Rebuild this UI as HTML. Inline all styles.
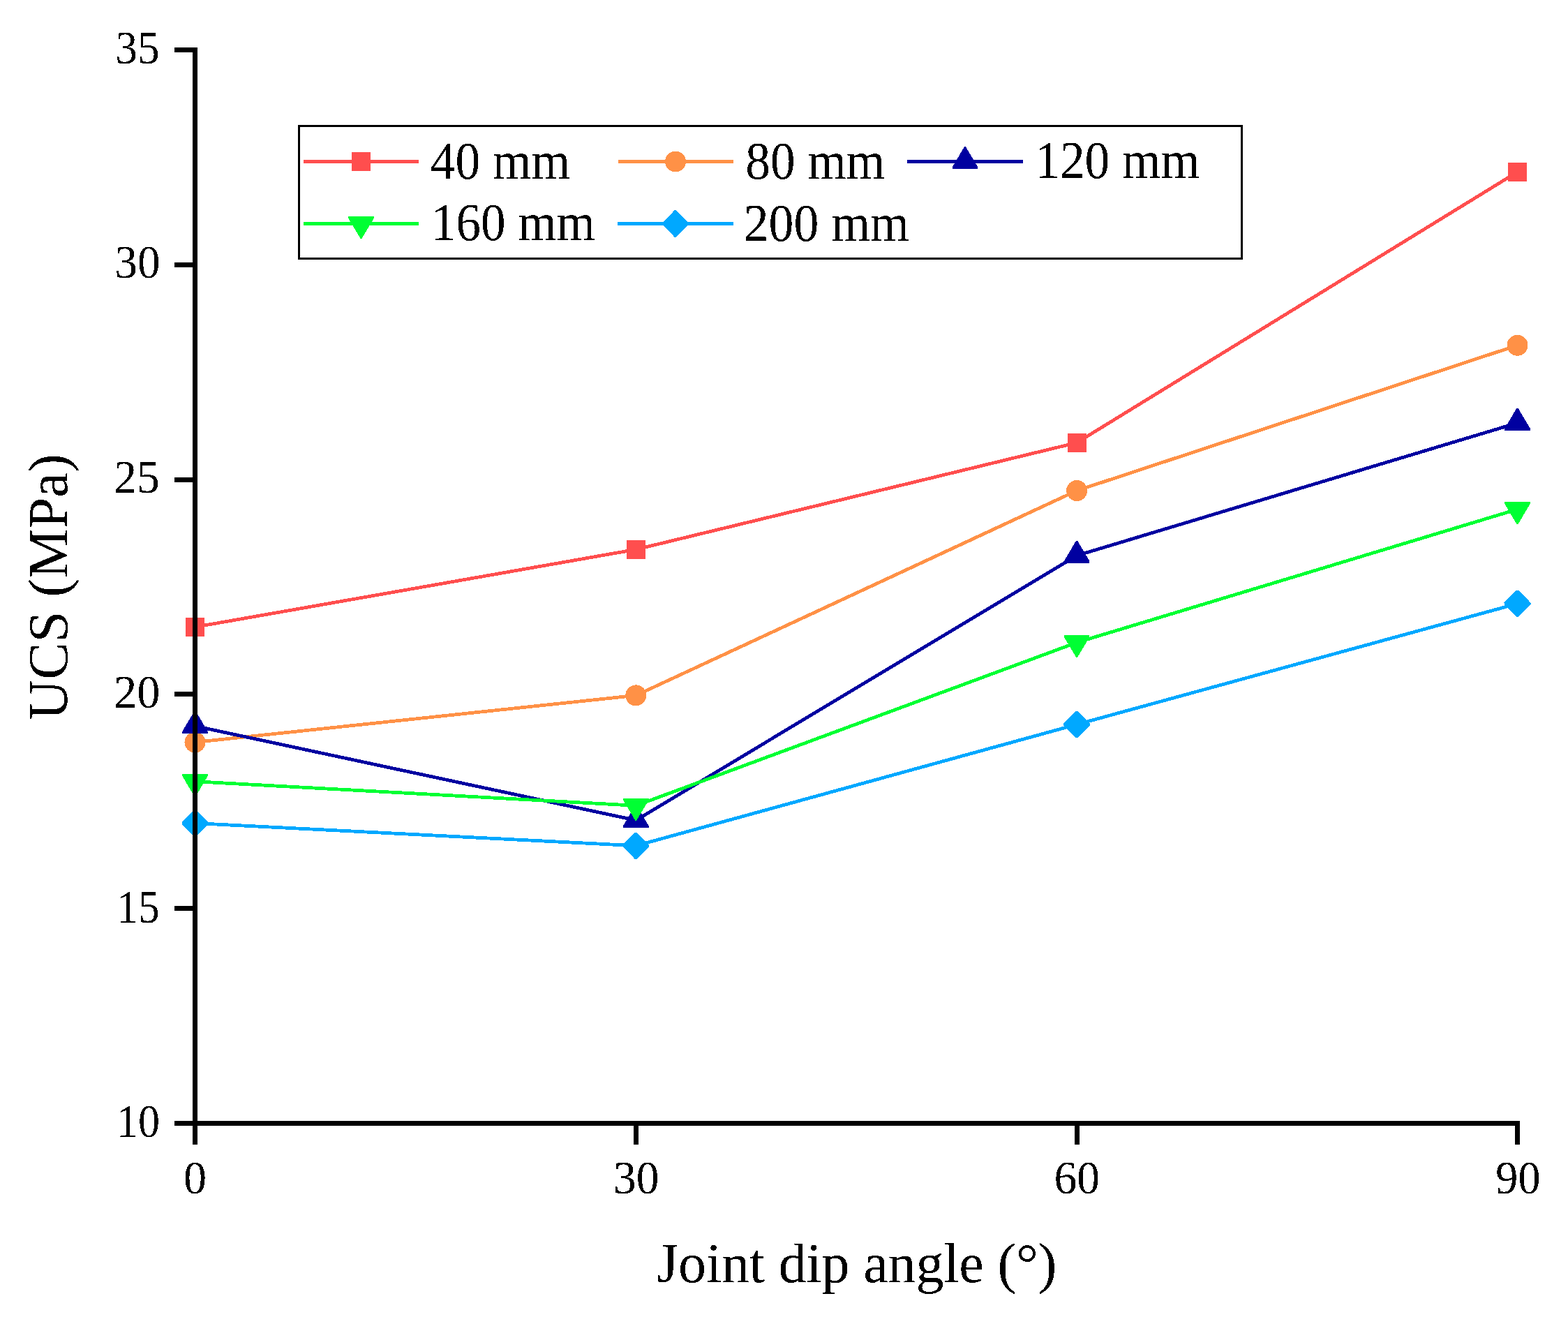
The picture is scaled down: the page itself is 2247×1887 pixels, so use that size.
<!DOCTYPE html>
<html><head><meta charset="utf-8"><title>UCS vs Joint dip angle</title>
<style>
html,body{margin:0;padding:0;background:#fff;}
body{width:2247px;height:1887px;overflow:hidden;}
svg{display:block;}
text{font-family:"Liberation Serif","Times New Roman",serif;fill:#000;}
</style></head><body>
<svg width="2247" height="1887" viewBox="0 0 2247 1887" shape-rendering="crispEdges">
<defs><filter id="bin" x="-5%" y="-20%" width="110%" height="140%" color-interpolation-filters="sRGB"><feComponentTransfer><feFuncA type="discrete" tableValues="0 1"/></feComponentTransfer></filter></defs>
<rect x="0" y="0" width="2247" height="1887" fill="#fff"/>
<g fill="none" stroke-width="4.8" stroke-linejoin="round" stroke-linecap="butt">
<polyline points="279.50,898.40 911.30,787.30 1543.10,634.30 2174.50,246.40" stroke="#FF4E4E"/>
<polyline points="279.50,1063.50 911.30,996.40 1543.10,703.00 2174.50,494.80" stroke="#FF9146"/>
<polyline points="279.50,1040.30 911.30,1175.30 1543.10,796.00 2174.50,606.00" stroke="#0000A0"/>
<polyline points="279.50,1119.70 911.30,1154.30 1543.10,920.60 2174.50,729.70" stroke="#00FF33"/>
<polyline points="279.50,1179.50 911.30,1211.80 1543.10,1038.00 2174.50,864.90" stroke="#00A8FF"/>
</g>
<g>
<rect x="266.10" y="885.00" width="26.8" height="26.8" fill="#FF4E4E"/>
<rect x="897.90" y="773.90" width="26.8" height="26.8" fill="#FF4E4E"/>
<rect x="1529.70" y="620.90" width="26.8" height="26.8" fill="#FF4E4E"/>
<rect x="2161.10" y="233.00" width="26.8" height="26.8" fill="#FF4E4E"/>
<circle cx="279.50" cy="1063.50" r="15.0" fill="#FF9146"/>
<circle cx="911.30" cy="996.40" r="15.0" fill="#FF9146"/>
<circle cx="1543.10" cy="703.00" r="15.0" fill="#FF9146"/>
<circle cx="2174.50" cy="494.80" r="15.0" fill="#FF9146"/>
<polygon points="278.50,1019.10 280.50,1019.10 297.80,1048.05 297.80,1051.05 261.20,1051.05 261.20,1048.05" fill="#0000A0"/>
<polygon points="910.30,1154.10 912.30,1154.10 929.60,1183.05 929.60,1186.05 893.00,1186.05 893.00,1183.05" fill="#0000A0"/>
<polygon points="1542.10,774.80 1544.10,774.80 1561.40,803.75 1561.40,806.75 1524.80,806.75 1524.80,803.75" fill="#0000A0"/>
<polygon points="2173.50,584.80 2175.50,584.80 2192.80,613.75 2192.80,616.75 2156.20,616.75 2156.20,613.75" fill="#0000A0"/>
<polygon points="278.50,1140.90 280.50,1140.90 297.80,1111.95 297.80,1108.95 261.20,1108.95 261.20,1111.95" fill="#00FF33"/>
<polygon points="910.30,1175.50 912.30,1175.50 929.60,1146.55 929.60,1143.55 893.00,1143.55 893.00,1146.55" fill="#00FF33"/>
<polygon points="1542.10,941.80 1544.10,941.80 1561.40,912.85 1561.40,909.85 1524.80,909.85 1524.80,912.85" fill="#00FF33"/>
<polygon points="2173.50,750.90 2175.50,750.90 2192.80,721.95 2192.80,718.95 2156.20,718.95 2156.20,721.95" fill="#00FF33"/>
<polygon points="278.10,1160.40 280.90,1160.40 298.50,1178.10 298.50,1180.90 280.90,1198.60 278.10,1198.60 260.50,1180.90 260.50,1178.10" fill="#00A8FF"/>
<polygon points="909.90,1192.70 912.70,1192.70 930.30,1210.40 930.30,1213.20 912.70,1230.90 909.90,1230.90 892.30,1213.20 892.30,1210.40" fill="#00A8FF"/>
<polygon points="1541.70,1018.90 1544.50,1018.90 1562.10,1036.60 1562.10,1039.40 1544.50,1057.10 1541.70,1057.10 1524.10,1039.40 1524.10,1036.60" fill="#00A8FF"/>
<polygon points="2173.10,845.80 2175.90,845.80 2193.50,863.50 2193.50,866.30 2175.90,884.00 2173.10,884.00 2155.50,866.30 2155.50,863.50" fill="#00A8FF"/>
</g>
<g fill="#000" shape-rendering="crispEdges">
<rect x="276" y="68" width="7" height="1572"/>
<rect x="250" y="1606" width="1928" height="7"/>
<rect x="250" y="68.00" width="30" height="7"/>
<rect x="250" y="376.00" width="30" height="7"/>
<rect x="250" y="683.50" width="30" height="7"/>
<rect x="250" y="990.50" width="30" height="7"/>
<rect x="250" y="1298.00" width="30" height="7"/>
<rect x="250" y="1606.00" width="30" height="7"/>
<rect x="276.00" y="1609" width="7" height="31"/>
<rect x="908.00" y="1609" width="7" height="31"/>
<rect x="1540.00" y="1609" width="7" height="31"/>
<rect x="2171.00" y="1609" width="7" height="31"/>
</g>
<g filter="url(#bin)">
<text id="y35" transform="translate(165.24,91.12) scale(0.9395,1)" font-size="67.50">35</text>
<text id="y30" transform="translate(164.26,398.25) scale(0.9672,1)" font-size="67.50">30</text>
<text id="y25" transform="translate(163.16,706.34) scale(0.9704,1)" font-size="67.50">25</text>
<text id="y20" transform="translate(163.11,1013.76) scale(0.9851,1)" font-size="67.50">20</text>
<text id="y15" transform="translate(167.83,1321.70) scale(0.8982,1)" font-size="67.50">15</text>
<text id="y10" transform="translate(166.96,1628.58) scale(0.9201,1)" font-size="67.50">10</text>
<text id="x0" transform="translate(263.09,1710.03) scale(0.9804,1)" font-size="67.50">0</text>
<text id="x30" transform="translate(878.96,1710.14) scale(0.9688,1)" font-size="67.50">30</text>
<text id="x60" transform="translate(1510.54,1710.03) scale(0.9706,1)" font-size="67.50">60</text>
<text id="x90" transform="translate(2143.36,1710.03) scale(0.9516,1)" font-size="67.50">90</text>
<text id="L40" transform="translate(616.78,255.66) scale(0.9486,1)" font-size="75.30">40 mm</text>
<text id="L80" transform="translate(1068.24,255.55) scale(0.9469,1)" font-size="75.30">80 mm</text>
<text id="L120" transform="translate(1483.19,255.20) scale(0.9483,1)" font-size="75.30">120 mm</text>
<text id="L160" transform="translate(617.83,344.19) scale(0.9445,1)" font-size="75.30">160 mm</text>
<text id="L200" transform="translate(1065.75,344.56) scale(0.9525,1)" font-size="75.30">200 mm</text>
<text x="941.1" y="1837.1" font-size="80" textLength="573.3" lengthAdjust="spacing">Joint dip angle (°)</text>
<text transform="translate(96.3,1031.7) rotate(-90)" x="0" y="0" font-size="80" textLength="381.4" lengthAdjust="spacing">UCS (MPa)</text>
</g>
<rect x="428.5" y="180.5" width="1351" height="190" fill="none" stroke="#000" stroke-width="3"/>
<line x1="435" y1="231.5" x2="600" y2="231.5" stroke="#FF4E4E" stroke-width="4.8"/>
<rect x="504.10" y="218.10" width="26.8" height="26.8" fill="#FF4E4E"/>
<line x1="886" y1="231.5" x2="1051" y2="231.5" stroke="#FF9146" stroke-width="4.8"/>
<circle cx="968.00" cy="231.50" r="15.0" fill="#FF9146"/>
<line x1="1300" y1="231.5" x2="1466" y2="231.5" stroke="#0000A0" stroke-width="4.8"/>
<polygon points="1382.00,210.30 1384.00,210.30 1401.30,239.25 1401.30,242.25 1364.70,242.25 1364.70,239.25" fill="#0000A0"/>
<line x1="435" y1="320.5" x2="600" y2="320.5" stroke="#00FF33" stroke-width="4.8"/>
<polygon points="516.50,341.70 518.50,341.70 535.80,312.75 535.80,309.75 499.20,309.75 499.20,312.75" fill="#00FF33"/>
<line x1="885" y1="320.5" x2="1051" y2="320.5" stroke="#00A8FF" stroke-width="4.8"/>
<polygon points="966.60,301.40 969.40,301.40 987.00,319.10 987.00,321.90 969.40,339.60 966.60,339.60 949.00,321.90 949.00,319.10" fill="#00A8FF"/>
</svg>
</body></html>
